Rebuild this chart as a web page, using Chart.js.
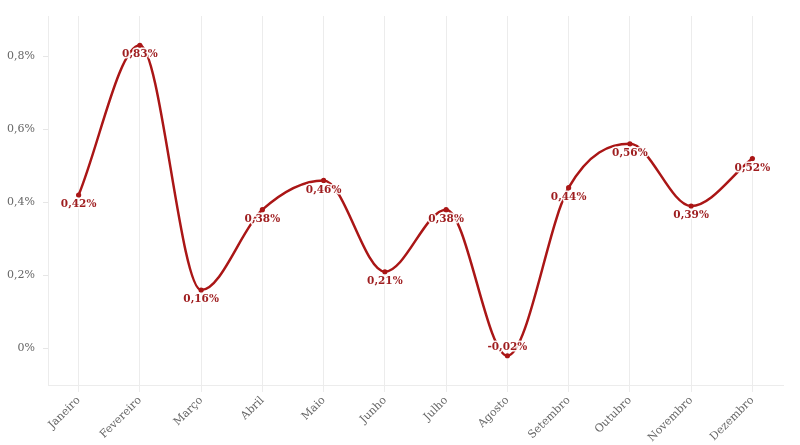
<!DOCTYPE html>
<html>
<head>
<meta charset="utf-8">
<script src="https://cdn.jsdelivr.net/npm/chart.js@4"></script>
<style>
  html, body { margin: 0; padding: 0; background: #fff; }
  #wrap { width: 800px; height: 445px; }
</style>
</head>
<body>
<div id="wrap"><canvas id="grafico"></canvas></div>
<script>
// dados
var meses = ['Janeiro', 'Fevereiro', 'Março', 'Abril', 'Maio', 'Junho', 'Julho', 'Agosto', 'Setembro', 'Outubro', 'Novembro', 'Dezembro'];
var variacao = [0.42, 0.83, 0.16, 0.38, 0.46, 0.21, 0.38, -0.02, 0.44, 0.56, 0.39, 0.52];
var yTicks = [0, 0.2, 0.4, 0.6, 0.8];

var vermelho = '#aa1616';
var fonte = "'DejaVu Serif', serif";

function formatar(v, casas) {
    if (v === 0) return '0%';
    return v.toFixed(casas).replace('.', ',') + '%';
}

// rótulos de valor em cada ponto (abaixo, ou acima quando negativo)
var rotulos = {
    id: 'rotulos',
    afterDatasetsDraw: function(chart) {
        var ctx = chart.ctx;
        var meta = chart.getDatasetMeta(0);
        ctx.save();
        ctx.font = 'bold 10.5px ' + fonte;
        ctx.textAlign = 'center';
        ctx.textBaseline = 'middle';
        ctx.lineJoin = 'round';
        meta.data.forEach(function(pt, i) {
            var v = variacao[i];
            var dy = v < 0 ? -9 : 9.5;
            // contorno branco como no original
            ctx.strokeStyle = 'rgba(255,255,255,0.9)';
            ctx.lineWidth = 3;
            ctx.strokeText(formatar(v, 2), pt.x, pt.y + dy);
            ctx.fillStyle = '#9e1d1f';
            ctx.fillText(formatar(v, 2), pt.x, pt.y + dy);
        });
        ctx.restore();
    }
};

var ctx = document.getElementById('grafico').getContext('2d');
var grafico = new Chart(ctx, {
    type: 'line',
    data: {
        labels: meses,
        datasets: [{
            data: variacao,
            borderColor: vermelho,
            backgroundColor: vermelho,
            borderWidth: 2.5,
            pointRadius: 2.6,
            pointHoverRadius: 2.6,
            pointBorderWidth: 0,
            cubicInterpolationMode: 'monotone',
            fill: false
        }]
    },
    options: {
        responsive: true,
        maintainAspectRatio: false,
        animation: false,
        layout: { padding: { left: 0, right: 17, top: 16, bottom: 0 } },
        plugins: {
            legend: { display: false },
            tooltip: { enabled: false }
        },
        scales: {
            x: {
                offset: true,
                grid: {
                    color: '#ececec',
                    lineWidth: 1,
                    tickLength: 7,
                    offset: false
                },
                border: { color: '#ececec' },
                ticks: {
                    maxRotation: 45,
                    minRotation: 45,
                    color: '#666',
                    padding: 2,
                    font: { family: fonte, size: 11 }
                },
                afterFit: function(scale) { scale.height = 60; }
            },
            y: {
                min: -0.1,
                max: 0.91,
                grid: {
                    drawOnChartArea: false,
                    color: '#e6e6e6',
                    tickLength: 5
                },
                border: { color: '#ececec' },
                ticks: {
                    color: '#666',
                    padding: 8,
                    font: { family: fonte, size: 11 },
                    callback: function(v) { return formatar(v, 1); }
                },
                afterBuildTicks: function(scale) {
                    scale.ticks = yTicks.map(function(v) { return { value: v }; });
                },
                afterFit: function(scale) { scale.width = 48; }
            }
        }
    },
    plugins: [rotulos]
});
</script>
</body>
</html>
